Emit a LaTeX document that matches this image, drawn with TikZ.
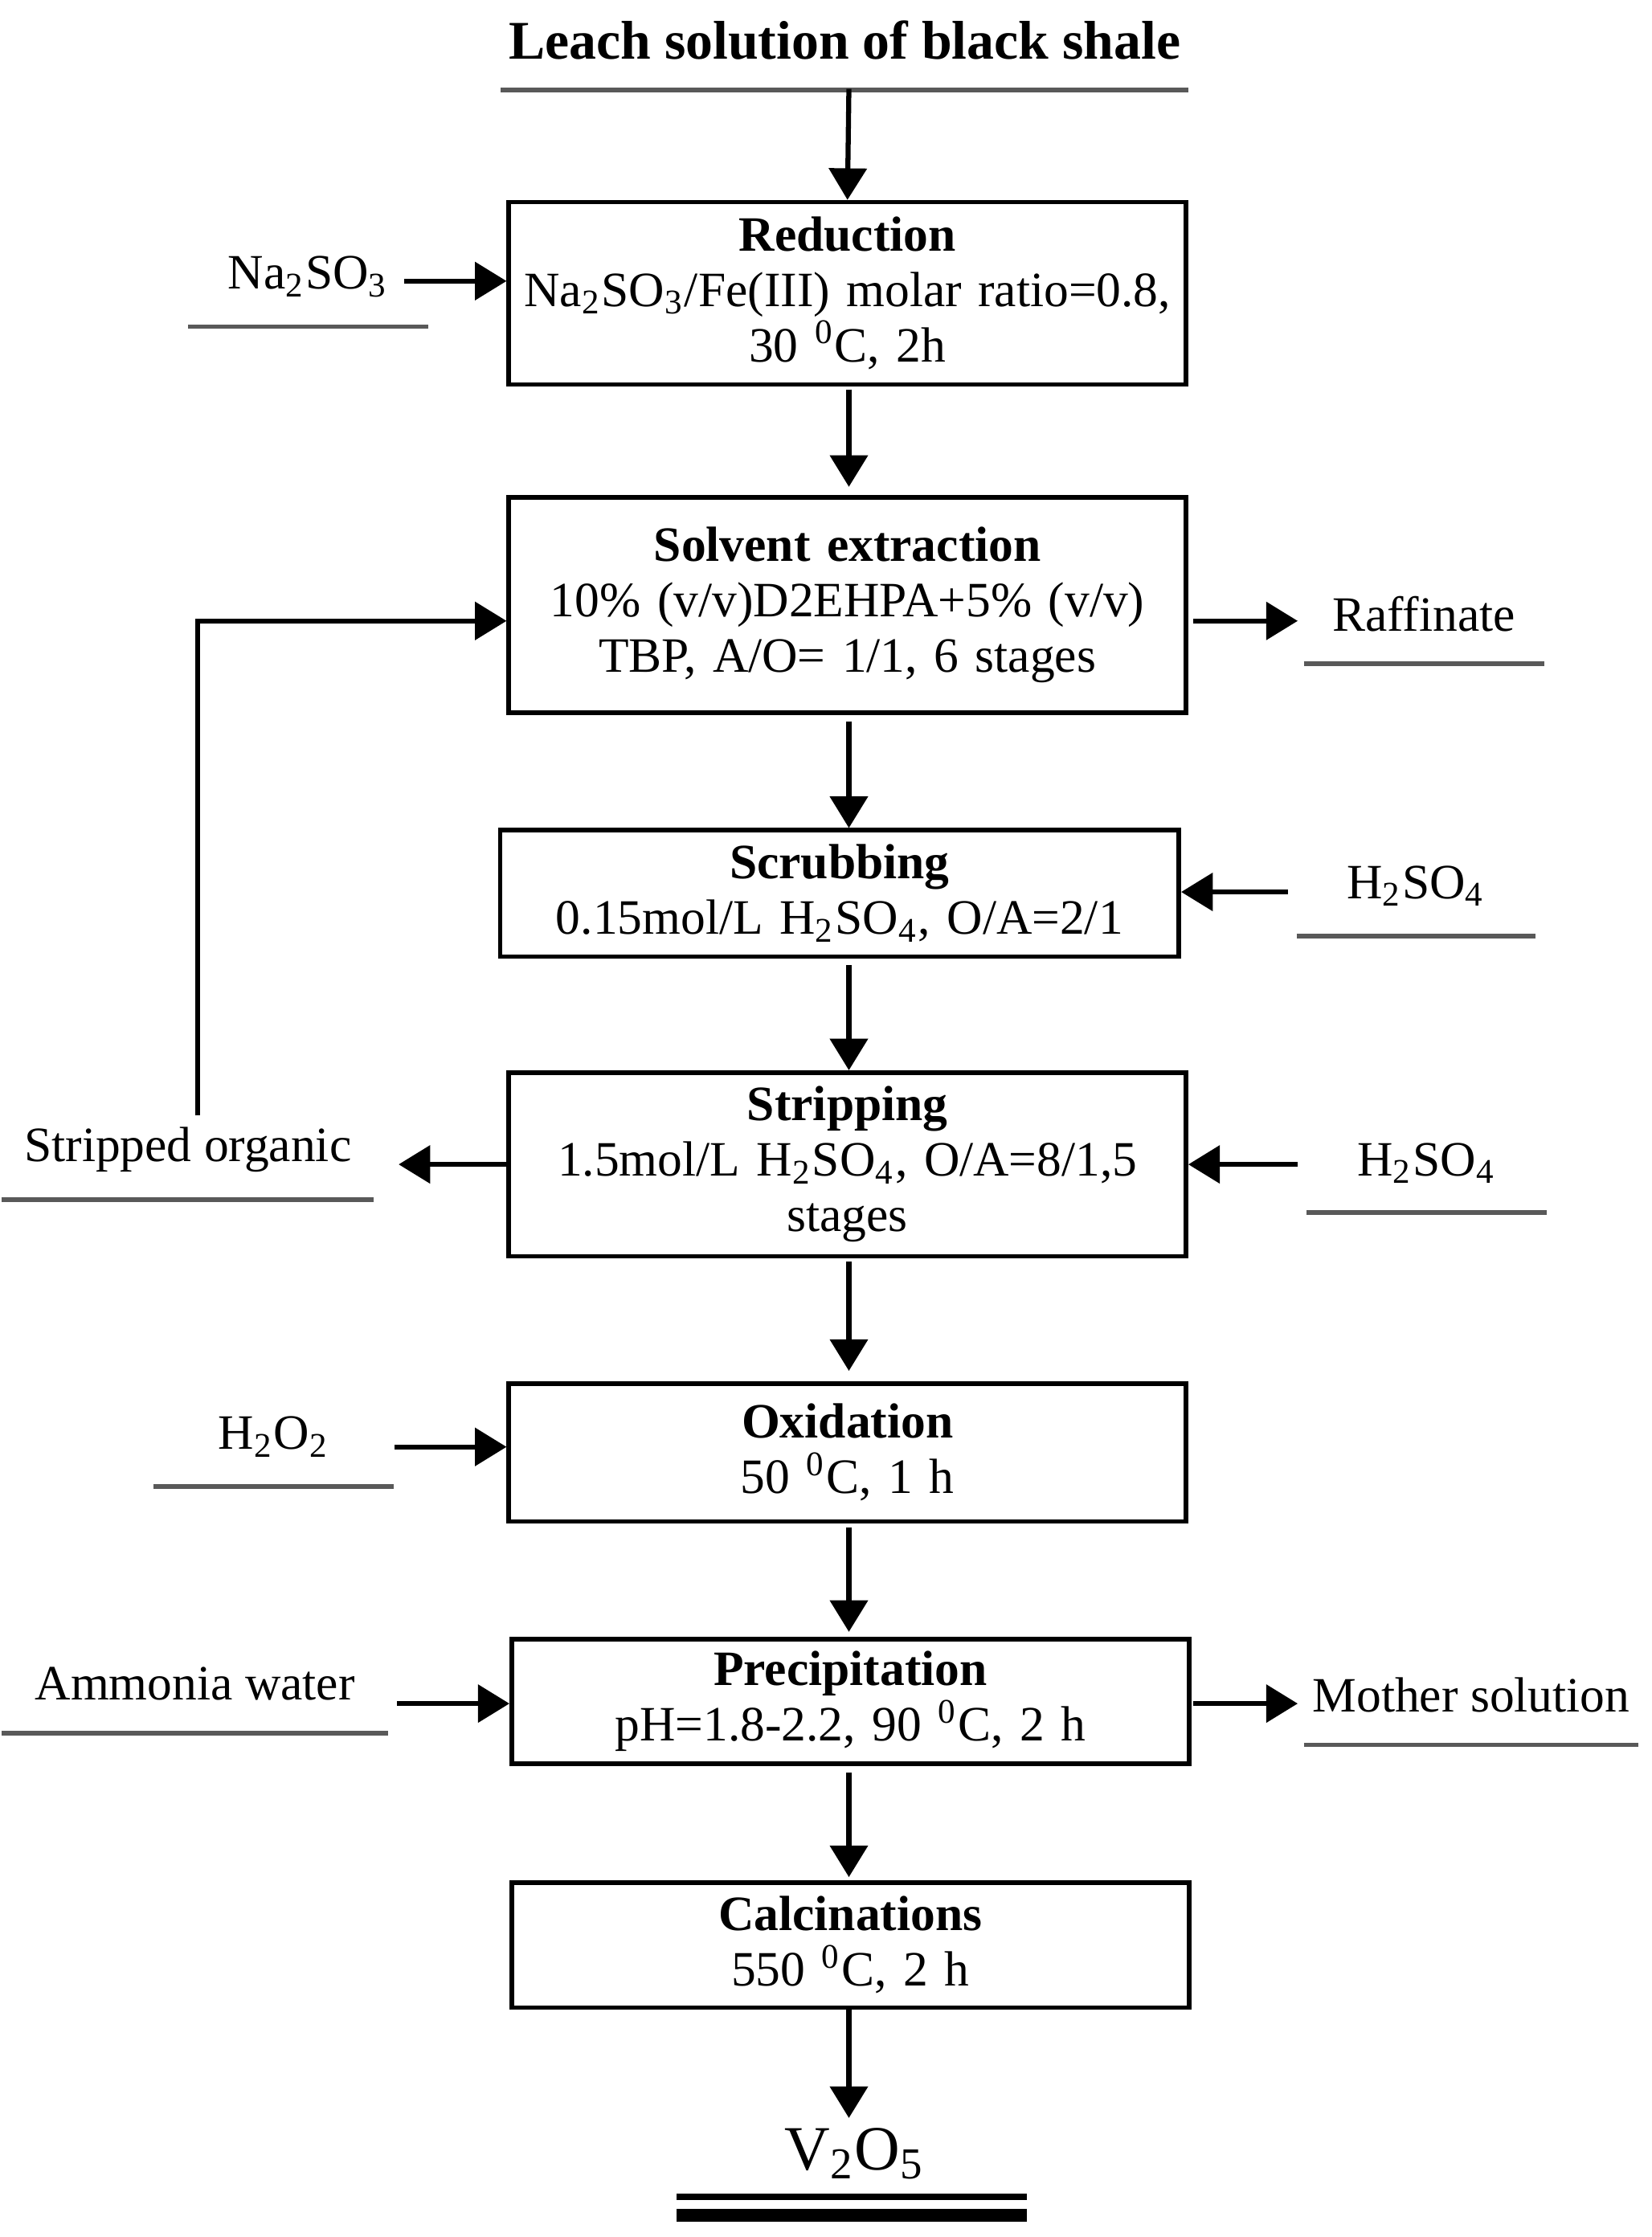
\documentclass[tikz,border=0pt]{standalone}
\usepackage{fontspec}
\setmainfont{Liberation Serif}
\usetikzlibrary{arrows.meta, calc, positioning}

\tikzset{
  box/.style={draw, line width=0.9pt, minimum width=4.72cm, text width=4.6cm, align=center, inner sep=1pt, font=\fontsize{9.8}{11}\selectfont},
  arr/.style={-{Triangle[length=0.22cm, width=0.26cm]}, line width=1pt},
  lab/.style={minimum width=#1, minimum height=0.68cm, inner sep=0pt, font=\fontsize{9.8}{12}\selectfont},
  uline/.style={gray!70!black, line width=0.9pt}
}

\begin{document}
\begin{tikzpicture}[x=0.01cm, y=-0.01cm]
    \useasboundingbox (0,0) rectangle (1152,1560);

    % Process boxes
    \node[box, minimum height=1.27cm] (red) at (591,204.5) {\textbf{Reduction}\\Na\textsubscript{2}SO\textsubscript{3}/Fe(III) molar ratio=0.8,\\30 \textsuperscript{0}C, 2h};
    \node[box, minimum height=1.50cm] (sx) at (591,422) {\textbf{Solvent extraction}\\10\% (v/v)D2EHPA+5\% (v/v)\\TBP, A/O= 1/1, 6 stages};
    \node[box, minimum height=0.88cm, minimum width=4.73cm] (scr) at (585.5,623) {\textbf{Scrubbing}\\0.15mol/L H\textsubscript{2}SO\textsubscript{4}, O/A=2/1};
    \node[box, minimum height=1.28cm] (str) at (591,812) {\textbf{Stripping}\\1.5mol/L H\textsubscript{2}SO\textsubscript{4}, O/A=8/1,5\\stages};
    \node[box, minimum height=0.96cm] (oxi) at (591,1013) {\textbf{Oxidation}\\50 \textsuperscript{0}C, 1 h};
    \node[box, minimum height=0.87cm] (pre) at (593,1186.5) {\textbf{Precipitation}\\pH=1.8-2.2, 90 \textsuperscript{0}C, 2 h};
    \node[box, minimum height=0.87cm] (cal) at (593,1356.5) {\textbf{Calcinations}\\550 \textsuperscript{0}C, 2 h};

    % Feed and product labels
    \node[lab=4.78cm, font=\fontsize{10.8}{13}\selectfont\bfseries] (leach) at (589,28) {Leach solution of black shale};
    \node[font=\fontsize{12.5}{15}\selectfont] (vo) at (596,1502) {V\textsubscript{2}O\textsubscript{5}};
    \node[lab=1.66cm] (na) at (215,193) {Na\textsubscript{2}SO\textsubscript{3}};
    \node[lab=1.66cm] (raf) at (993,428) {Raffinate};
    \node[lab=1.65cm] (hs1) at (987.5,618) {H\textsubscript{2}SO\textsubscript{4}};
    \node[lab=2.58cm] (so) at (131,802) {Stripped organic};
    \node[lab=1.66cm] (hs2) at (995,811) {H\textsubscript{2}SO\textsubscript{4}};
    \node[lab=1.66cm] (hp) at (191,1002) {H\textsubscript{2}O\textsubscript{2}};
    \node[lab=2.68cm] (amm) at (136,1174) {Ammonia water};
    \node[lab=2.32cm] (mot) at (1026,1182) {Mother solution};

    % Underlines
    \foreach \n in {leach, na, raf, hs1, so, hs2, hp, amm, mot}
      \draw[uline] (\n.south west) -- (\n.south east);
    \draw[line width=1.2pt] (472,1532) -- (716,1532);
    \draw[line width=2.6pt] (472,1545) -- (716,1545);

    % Main stream
    \draw[arr] (592,62) -- (red.north);
    \draw[arr, shorten <=1pt, shorten >=1pt] (592,268) -- (592,343);
    \draw[arr] (592,503) -- (scr.north -| 592,0);
    \draw[arr] (592,673) -- (str.north -| 592,0);
    \draw[arr] (592,880) -- (592,956);
    \draw[arr] (592,1065) -- (592,1138);
    \draw[arr] (592,1236) -- (592,1309);
    \draw[arr] (592,1400) -- (592,1477);

    % Side streams
    \coordinate (naT) at (282,196);
    \draw[arr] (naT) -- (naT -| red.west);
    \draw[arr] (832,433) -- (905,433);
    \draw[arr] (898,622) -- (scr.east |- 0,622);
    \draw[arr] (str.west) -- (278,812);
    \draw[arr] (905,812) -- (str.east);
    \draw[arr] (275,1009) -- (oxi.west |- 0,1009);
    \draw[arr] (277,1188) -- (pre.west |- 0,1188);
    \draw[arr] (832,1188) -- (905,1188);

    % Recycle of stripped organic
    \draw[arr] (138,778) -- (138,433) -- (sx.west |- 0,433);
\end{tikzpicture}
\end{document}
